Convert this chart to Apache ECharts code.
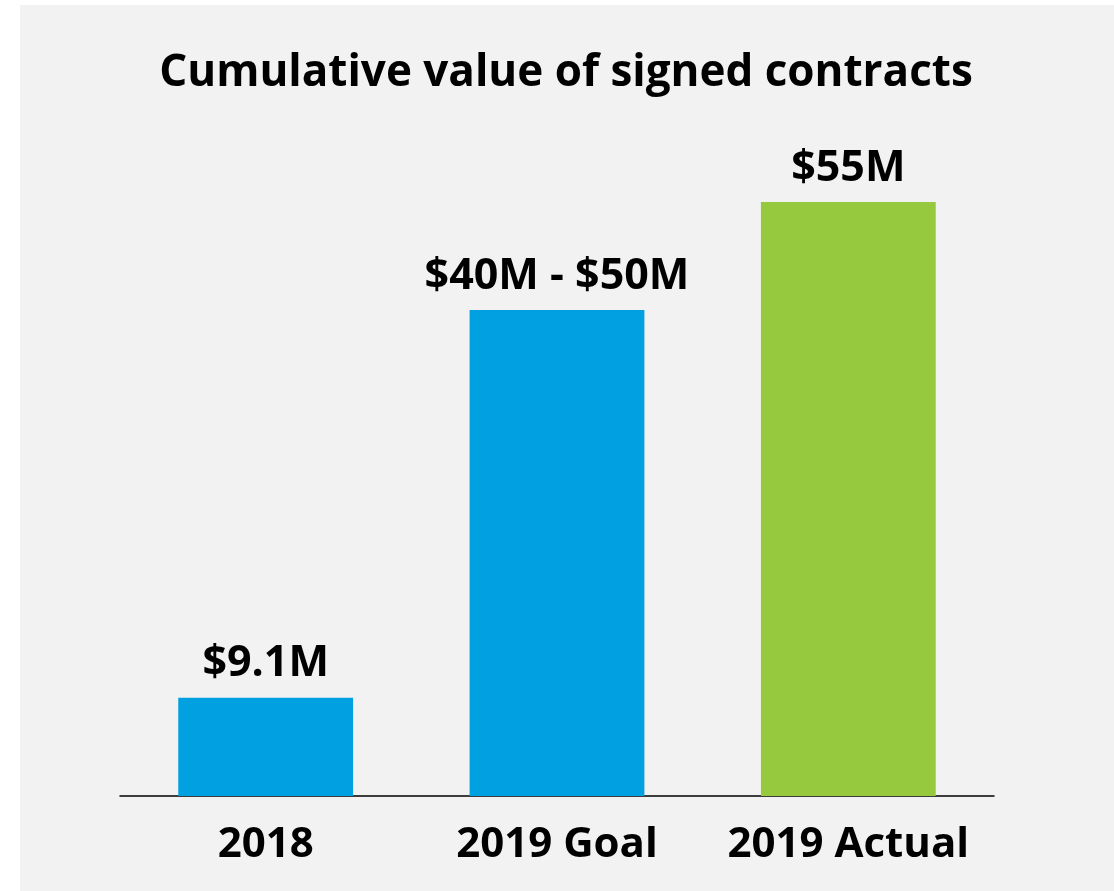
<!DOCTYPE html>
<html>
<head>
<meta charset="utf-8">
<script src="https://cdn.jsdelivr.net/npm/echarts@6/dist/echarts.min.js"></script>
<style>
html,body{margin:0;padding:0;background:#ffffff;}
#panel{position:absolute;left:20px;top:5px;width:1094px;height:886px;background:#f2f2f2;}
#chart{position:absolute;left:0;top:0;width:1114px;height:891px;}
</style>
</head>
<body>
<div id="panel"></div>
<div id="chart"></div>
<script>
var categories = ["2018", "2019 Goal", "2019 Actual"];
var values = [9.1, 45, 55];
var valueLabels = ["$9.1M", "$40M - $50M", "$55M"];
var barColors = ["#00a0e1", "#00a0e1", "#96c93d"];
var titleText = "Cumulative value of signed contracts";

var chart = echarts.init(document.getElementById('chart'), null, {renderer: 'canvas'});
var FONT = '"Open Sans", "Noto Sans", sans-serif';
chart.setOption({
  backgroundColor: 'transparent',
  animation: false,
  title: {
    text: titleText,
    left: 561, top: 46, textAlign: 'center',
    textStyle: {fontFamily: FONT, fontWeight: 'bold', fontSize: 44, color: '#000'}
  },
  grid: {left: 120, right: 120, top: 148, bottom: 95},
  xAxis: {
    type: 'category', data: categories,
    axisLine: {lineStyle: {color: '#000', width: 1.5}},
    axisTick: {show: false},
    axisLabel: {interval: 0, margin: 28, fontFamily: FONT, fontWeight: 'bold', fontSize: 42, color: '#000'}
  },
  yAxis: {type: 'value', min: 0, max: 60, show: false, splitLine: {show: false}},
  series: [{
    type: 'bar', barWidth: '60%',
    data: values.map(function (v, i) { return {value: v, itemStyle: {color: barColors[i]}}; }),
    label: {
      show: true, position: 'top', distance: 12,
      fontFamily: FONT, fontWeight: 'bold', fontSize: 43, color: '#000',
      formatter: function (p) { return valueLabels[p.dataIndex]; }
    }
  }]
});
</script>
</body>
</html>
